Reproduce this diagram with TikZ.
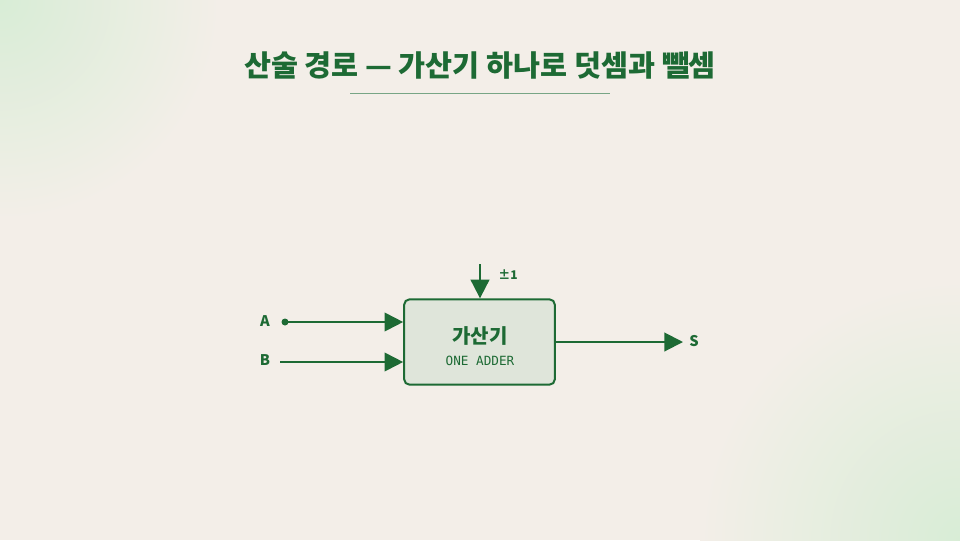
\documentclass[tikz,border=0pt]{standalone}
\usepackage{fontspec}
\setmainfont{Noto Sans CJK KR}
\setmonofont{DejaVu Sans Mono}
\usetikzlibrary{arrows.meta,positioning}
\definecolor{ink}{HTML}{1D6A34}
\definecolor{paper}{HTML}{F3EEE8}
\definecolor{boxfill}{HTML}{DFE5DA}
\definecolor{glow}{HTML}{D8EDD6}
\tikzset{
  wire/.style={ink, line width=1.5pt, -{Triangle[length=14pt,width=14pt]}},
  lbl/.style={text=ink, font=\bfseries\fontsize{11}{13}\selectfont},
}
\begin{document}
\begin{tikzpicture}[x=0.75pt,y=-0.75pt]
  \useasboundingbox (0,0) rectangle (960,540);
  % background
  \begin{scope}
    \clip (0,0) rectangle (960,540);
    \fill[paper] (0,0) rectangle (960,540);
    \shade[inner color=glow, outer color=paper] (0,0) circle (220);
    \shade[inner color=glow, outer color=paper] (960,540) circle (260);
  \end{scope}
  % title
  \node[text=ink, font=\bfseries\fontsize{22}{26}\selectfont] (title) at (480,65) {산술 경로 — 가산기 하나로 덧셈과 뺄셈};
  \draw[ink!60, line width=0.6pt] (350,93) -- (610,93);
  % adder block
  \node[draw=ink, line width=1.5pt, fill=boxfill, rounded corners=4pt,
        minimum width=113pt, minimum height=64pt] (add) at (479.5,342) {};
  \node[text=ink, font=\bfseries\fontsize{15}{18}\selectfont] (name) at (480,336) {가산기};
  \node[text=ink, font=\ttfamily\fontsize{9.5}{11}\selectfont] (sub) at (480,361) {ONE ADDER};
  % inputs and output
  \node[lbl] (A) at (265,321) {A};
  \node[lbl] (B) at (265,360) {B};
  \node[lbl] (S) at (694,341) {S};
  \node[lbl, font=\bfseries\fontsize{9}{11}\selectfont] (pm) at (508,275) {±1};
  \coordinate (a0) at (285,322);
  \coordinate (b0) at (280,362);
  \coordinate (c0) at (480,264);
  \coordinate (s0) at (683,342);
  \fill[ink] (a0) circle (3.5);
  \draw[wire] (a0) -- (add.west |- a0);
  \draw[wire] (b0) -- (add.west |- b0);
  \draw[wire] (c0) -- (add.north -| c0);
  \draw[wire] (add.east) -- (s0);
\end{tikzpicture}
\end{document}
